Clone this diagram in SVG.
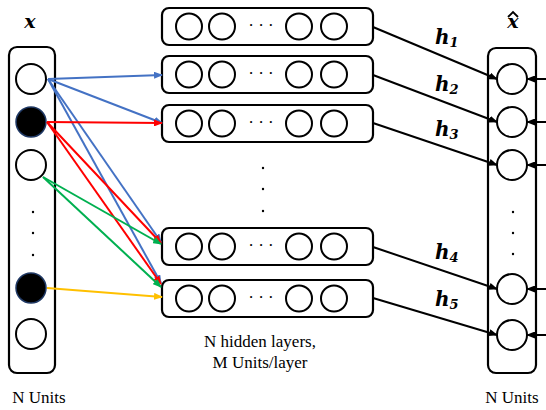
<svg xmlns="http://www.w3.org/2000/svg" width="546" height="410" viewBox="0 0 546 410">
<defs>
<marker id="mk" markerUnits="userSpaceOnUse" markerWidth="9" markerHeight="7" refX="8" refY="3.5" orient="auto"><path d="M0,0 L9,3.5 L0,7 z" fill="#000"/></marker>
<marker id="mb" markerUnits="userSpaceOnUse" markerWidth="9" markerHeight="7" refX="8" refY="3.5" orient="auto"><path d="M0,0 L9,3.5 L0,7 z" fill="#4472C4"/></marker>
<marker id="mr" markerUnits="userSpaceOnUse" markerWidth="9" markerHeight="7" refX="8" refY="3.5" orient="auto"><path d="M0,0 L9,3.5 L0,7 z" fill="#FF0000"/></marker>
<marker id="mg" markerUnits="userSpaceOnUse" markerWidth="9" markerHeight="7" refX="8" refY="3.5" orient="auto"><path d="M0,0 L9,3.5 L0,7 z" fill="#00B050"/></marker>
<marker id="my" markerUnits="userSpaceOnUse" markerWidth="9" markerHeight="7" refX="8" refY="3.5" orient="auto"><path d="M0,0 L9,3.5 L0,7 z" fill="#FFC000"/></marker>
</defs>
<style>
.box{fill:#fff;stroke:#000;stroke-width:2.2}
.u{fill:#fff;stroke:#000;stroke-width:2}
.ub{fill:#000;stroke:#1F3864;stroke-width:1.5}
.dot{fill:#000}
.lbl{font-family:"Liberation Serif",serif;font-size:17px;fill:#000}
.var{font-family:"DejaVu Serif",serif;font-weight:bold;font-style:italic;fill:#000}
.el{font-family:"Liberation Serif",serif;font-size:17px;fill:#000}
.cb{stroke:#4472C4;stroke-width:2;fill:none;marker-end:url(#mb)}
.cr{stroke:#FF0000;stroke-width:2;fill:none;marker-end:url(#mr)}
.cg{stroke:#00B050;stroke-width:2;fill:none;marker-end:url(#mg)}
.cy{stroke:#FFC000;stroke-width:2;fill:none;marker-end:url(#my)}
.ck{stroke:#000;stroke-width:2;fill:none;marker-end:url(#mk)}
</style>

<g id="input">
<rect class="box" x="9" y="47" width="46" height="326" rx="8"/>
<circle class="u" cx="31" cy="79" r="15"/>
<circle class="ub" cx="31" cy="122" r="15"/>
<circle class="u" cx="31" cy="165" r="15"/>
<circle class="dot" cx="33" cy="212" r="1.2"/>
<circle class="dot" cx="33" cy="233" r="1.2"/>
<circle class="dot" cx="33" cy="255" r="1.2"/>
<circle class="ub" cx="31" cy="288" r="15"/>
<circle class="u" cx="31" cy="334" r="15"/>
<text class="var" x="30" y="28" font-size="19" text-anchor="middle">x</text>
<text class="lbl" x="39" y="403" text-anchor="middle">N Units</text>
</g>

<g id="hidden1">
<rect class="box" x="162" y="8" width="211" height="37" rx="7"/>
<circle class="u" cx="189" cy="26.5" r="13"/><circle class="u" cx="222" cy="26.5" r="13"/>
<text class="el" x="261" y="31" text-anchor="middle">· · ·</text>
<circle class="u" cx="299" cy="26.5" r="13"/><circle class="u" cx="334" cy="26.5" r="13"/>
</g>
<g id="hidden2">
<rect class="box" x="162" y="56" width="211" height="37" rx="7"/>
<circle class="u" cx="189" cy="74.5" r="13"/><circle class="u" cx="222" cy="74.5" r="13"/>
<text class="el" x="261" y="79" text-anchor="middle">· · ·</text>
<circle class="u" cx="299" cy="74.5" r="13"/><circle class="u" cx="334" cy="74.5" r="13"/>
</g>
<g id="hidden3">
<rect class="box" x="162" y="105" width="211" height="37" rx="7"/>
<circle class="u" cx="189" cy="123.5" r="13"/><circle class="u" cx="222" cy="123.5" r="13"/>
<text class="el" x="261" y="128" text-anchor="middle">· · ·</text>
<circle class="u" cx="299" cy="123.5" r="13"/><circle class="u" cx="334" cy="123.5" r="13"/>
</g>
<g id="vdots">
<circle class="dot" cx="263" cy="168" r="1.2"/>
<circle class="dot" cx="263" cy="189" r="1.2"/>
<circle class="dot" cx="263" cy="211" r="1.2"/>
</g>
<g id="hidden4">
<rect class="box" x="162" y="228" width="211" height="37" rx="7"/>
<circle class="u" cx="189" cy="246.5" r="13"/><circle class="u" cx="222" cy="246.5" r="13"/>
<text class="el" x="261" y="251" text-anchor="middle">· · ·</text>
<circle class="u" cx="299" cy="246.5" r="13"/><circle class="u" cx="334" cy="246.5" r="13"/>
</g>
<g id="hidden5">
<rect class="box" x="162" y="280" width="211" height="37" rx="7"/>
<circle class="u" cx="189" cy="298.5" r="13"/><circle class="u" cx="222" cy="298.5" r="13"/>
<text class="el" x="261" y="303" text-anchor="middle">· · ·</text>
<circle class="u" cx="299" cy="298.5" r="13"/><circle class="u" cx="334" cy="298.5" r="13"/>
</g>
<g id="hidden-label">
<text class="lbl" x="260" y="347" text-anchor="middle">N hidden layers,</text>
<text class="lbl" x="260" y="368" text-anchor="middle">M Units/layer</text>
</g>

<g id="output">
<rect class="box" x="488" y="48" width="48" height="325" rx="8"/>
<circle class="u" cx="512" cy="79" r="15"/>
<circle class="u" cx="512" cy="122" r="15"/>
<circle class="u" cx="512" cy="165" r="15"/>
<circle class="dot" cx="513" cy="212" r="1.2"/>
<circle class="dot" cx="513" cy="233" r="1.2"/>
<circle class="dot" cx="513" cy="254" r="1.2"/>
<circle class="u" cx="512" cy="289" r="15"/>
<circle class="u" cx="512" cy="335" r="15"/>
<text class="var" x="513" y="28" font-size="19" text-anchor="middle">x</text>
<path d="M508,17 L513,12 L518,17" fill="none" stroke="#000" stroke-width="1.8"/>
<text class="lbl" x="512" y="403" text-anchor="middle">N Units</text>
</g>

<g id="connectors">
<line class="cb" x1="48" y1="79" x2="162" y2="75"/>
<line class="cb" x1="48" y1="79" x2="162" y2="123"/>
<line class="cb" x1="48" y1="79" x2="161" y2="242"/>
<line class="cb" x1="48" y1="79" x2="161" y2="283"/>
<line class="cr" x1="47" y1="122" x2="162" y2="123"/>
<line class="cr" x1="47" y1="122" x2="161" y2="243"/>
<line class="cr" x1="47" y1="122" x2="161" y2="284"/>
<line class="cg" x1="43" y1="177" x2="161" y2="244"/>
<line class="cg" x1="43" y1="177" x2="161" y2="287"/>
<line class="cy" x1="47" y1="288" x2="162" y2="297"/>

<line class="ck" x1="373" y1="27" x2="497" y2="79"/>
<line class="ck" x1="373" y1="75" x2="497" y2="122"/>
<line class="ck" x1="373" y1="123" x2="497" y2="165"/>
<line class="ck" x1="373" y1="247" x2="497" y2="289"/>
<line class="ck" x1="373" y1="298" x2="497" y2="335"/>

<line class="ck" x1="546" y1="79" x2="527" y2="79"/>
<line class="ck" x1="546" y1="122" x2="527" y2="122"/>
<line class="ck" x1="546" y1="165" x2="527" y2="165"/>
<line class="ck" x1="546" y1="289" x2="527" y2="289"/>
<line class="ck" x1="546" y1="335" x2="527" y2="335"/>

<text class="var" x="435" y="44" font-size="20">h<tspan font-size="13" dy="3">1</tspan></text>
<text class="var" x="435" y="91" font-size="20">h<tspan font-size="13" dy="3">2</tspan></text>
<text class="var" x="435" y="136" font-size="20">h<tspan font-size="13" dy="3">3</tspan></text>
<text class="var" x="435" y="259" font-size="20">h<tspan font-size="13" dy="3">4</tspan></text>
<text class="var" x="435" y="306" font-size="20">h<tspan font-size="13" dy="3">5</tspan></text>
</g>
</svg>
